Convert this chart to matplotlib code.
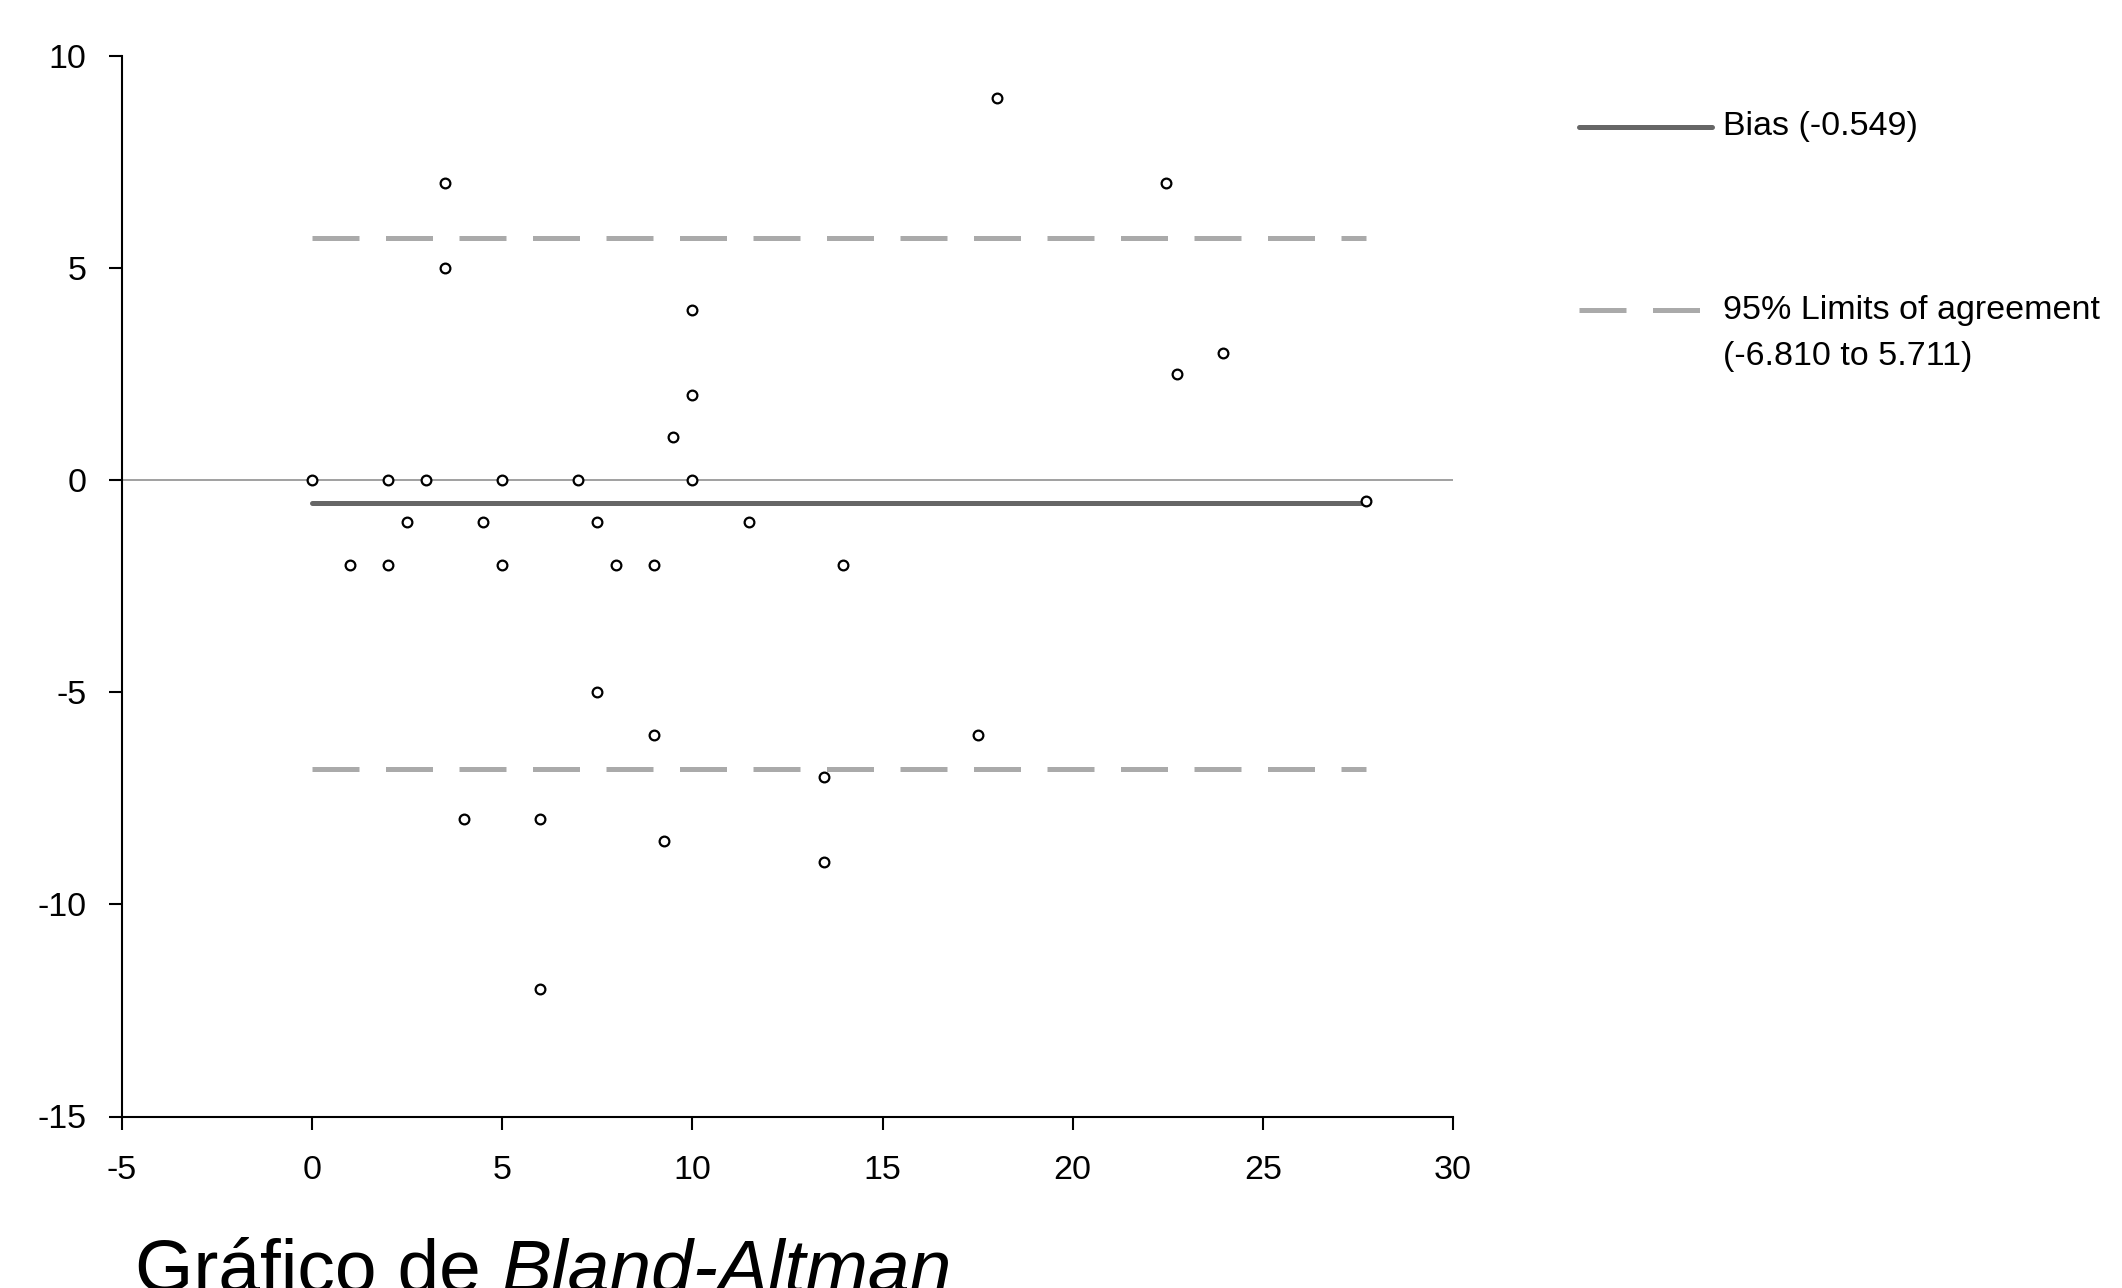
import matplotlib
matplotlib.use("Agg")
import matplotlib.pyplot as plt
from matplotlib.lines import Line2D
import numpy as np

# ---- data ----
x_mean = [0, 1, 2, 2, 2.5, 3, 3.5, 3.5, 4, 4.5, 5, 5, 6, 6, 7, 7.5, 7.5, 8, 9, 9,
          9.25, 9.5, 10, 10, 10, 11.5, 13.45, 13.45, 13.95, 17.5, 18, 22.45, 22.75,
          23.95, 27.7]
y_diff = [0, -2, 0, -2, -1, 0, 7, 5, -8, -1, 0, -2, -8, -12, 0, -1, -5, -2, -2, -6,
          -8.5, 1, 4, 2, 0, -1, -7, -9, -2, -6, 9, 7, 2.5, 3, -0.5]
bias = -0.549
loa_low = -6.810
loa_high = 5.711
x_ticks = [-5, 0, 5, 10, 15, 20, 25, 30]
y_ticks = [-15, -10, -5, 0, 5, 10]
bias_label = "Bias (-0.549)"
loa_label_1 = "95% Limits of agreement"
loa_label_2 = "(-6.810 to 5.711)"
title_normal = "Gráfico de "
title_italic = "Bland-Altman"

plt.rcParams['font.family'] = ['Liberation Sans', 'DejaVu Sans']
plt.rcParams['axes.unicode_minus'] = False

W, H = 2122, 1288
fig = plt.figure(figsize=(W / 100, H / 100), dpi=100)
ax = fig.add_axes([122 / W, 1 - 1116.5 / H, 1331 / W, 1061 / H])

BIAS_C = '#666666'
LOA_C = '#aaaaaa'
ZERO_C = '#999999'
FS = 24.5

ax.axhline(0, color=ZERO_C, lw=1.3, zorder=1)
xr = [min(x_mean), max(x_mean)]
ax.plot(xr, [loa_high, loa_high], color=LOA_C, lw=3.6, dashes=(9.4, 5.3),
        dash_capstyle='butt', zorder=2)
ax.plot(xr, [loa_low, loa_low], color=LOA_C, lw=3.6, dashes=(9.4, 5.3),
        dash_capstyle='butt', zorder=2)
ax.plot(xr, [bias, bias], color=BIAS_C, lw=3.6, solid_capstyle='round', zorder=3)
ax.plot(x_mean, y_diff, linestyle='none', marker='o', markersize=7,
        markerfacecolor='white', markeredgecolor='black', markeredgewidth=1.6,
        zorder=4)

ax.set_xlim(-5, 30)
ax.set_ylim(-15, 10)
ax.set_xticks(x_ticks)
ax.set_yticks(y_ticks)
for s in ['top', 'right']:
    ax.spines[s].set_visible(False)
for s in ['left', 'bottom']:
    ax.spines[s].set_linewidth(1.5)
ax.tick_params(axis='both', direction='out', length=9.5, width=1.5,
               labelsize=FS, colors='black')
ax.tick_params(axis='x', pad=18)
ax.tick_params(axis='y', pad=16)

# ---- legend (drawn manually) ----
def fx(px):
    return px / W

def fy(py):
    return 1 - py / H

fig.add_artist(Line2D([fx(1579), fx(1712)], [fy(127), fy(127)], color=BIAS_C,
                      lw=3.6, solid_capstyle='round', transform=fig.transFigure))
fig.add_artist(Line2D([fx(1579), fx(1700)], [fy(310), fy(310)], color=LOA_C,
                      lw=3.6, dashes=(9.4, 5.3), dash_capstyle='butt',
                      transform=fig.transFigure))
fig.text(fx(1723), fy(127), bias_label, fontsize=FS, va='center', ha='left')
fig.text(fx(1723), fy(310), loa_label_1, fontsize=FS, va='center', ha='left')
fig.text(fx(1723), fy(356), loa_label_2, fontsize=FS, va='center', ha='left')

# ---- title at the bottom ----
t1 = fig.text(fx(135), fy(1292), title_normal, fontsize=54, va='baseline', ha='left')
fig.canvas.draw()
bb = t1.get_window_extent(renderer=fig.canvas.get_renderer())
fig.text(bb.x1 / W, fy(1292), title_italic, fontsize=54, va='baseline', ha='left',
         style='italic')

fig.savefig("out.png", dpi=100)
